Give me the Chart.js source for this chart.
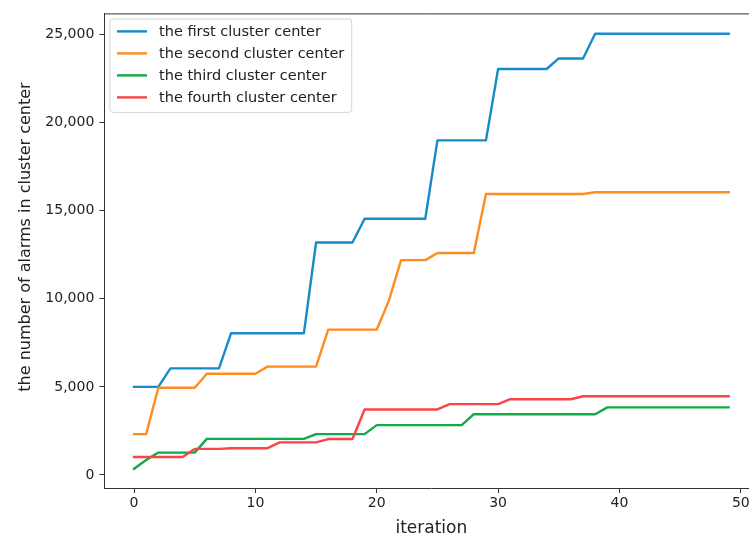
<!DOCTYPE html>
<html>
<head>
<meta charset="utf-8">
<title>Alarms per cluster center</title>
<script src="https://cdn.jsdelivr.net/npm/chart.js@4.4.1/dist/chart.umd.min.js"></script>
<style>
  html, body { margin: 0; padding: 0; background: #fff; overflow: hidden; }
  #view { width: 749px; height: 539px; overflow: hidden; }
  #wrap { position: relative; width: 770px; height: 539px; }
</style>
</head>
<body>
<div id="view"><div id="wrap"><canvas id="chartAlarms"></canvas></div></div>
<script>
// x values: iteration number
const iterations = [0, 1, 2, 3, 4, 5, 6, 7, 8, 9, 10, 11, 12, 13, 14, 15, 16, 17, 18, 19,
                    20, 21, 22, 23, 24, 25, 26, 27, 28, 29, 30, 31, 32, 33, 34, 35, 36, 37, 38, 39,
                    40, 41, 42, 43, 44, 45, 46, 47, 48, 49];

// number of alarms in each cluster center per iteration
const firstCenter = [5000, 5000, 5000, 6050, 6050, 6050, 6050, 6050, 8050, 8050,
                     8050, 8050, 8050, 8050, 8050, 13200, 13200, 13200, 13200, 14550,
                     14550, 14550, 14550, 14550, 14550, 19000, 19000, 19000, 19000, 19000,
                     23050, 23050, 23050, 23050, 23050, 23650, 23650, 23650, 25050, 25050,
                     25050, 25050, 25050, 25050, 25050, 25050, 25050, 25050, 25050, 25050];
const secondCenter = [2320, 2320, 4950, 4950, 4950, 4950, 5750, 5750, 5750, 5750,
                      5750, 6150, 6150, 6150, 6150, 6150, 8250, 8250, 8250, 8250,
                      8250, 9900, 12200, 12200, 12200, 12600, 12600, 12600, 12600, 15950,
                      15950, 15950, 15950, 15950, 15950, 15950, 15950, 15950, 16050, 16050,
                      16050, 16050, 16050, 16050, 16050, 16050, 16050, 16050, 16050, 16050];
const thirdCenter = [350, 850, 1270, 1270, 1270, 1270, 2050, 2050, 2050, 2050,
                     2050, 2050, 2050, 2050, 2050, 2320, 2320, 2320, 2320, 2320,
                     2830, 2830, 2830, 2830, 2830, 2830, 2830, 2830, 3450, 3450,
                     3450, 3450, 3450, 3450, 3450, 3450, 3450, 3450, 3450, 3840,
                     3840, 3840, 3840, 3840, 3840, 3840, 3840, 3840, 3840, 3840];
const fourthCenter = [1020, 1020, 1020, 1020, 1020, 1480, 1480, 1480, 1520, 1520,
                      1520, 1520, 1850, 1850, 1850, 1850, 2040, 2040, 2040, 3720,
                      3720, 3720, 3720, 3720, 3720, 3720, 4020, 4020, 4020, 4020,
                      4020, 4300, 4300, 4300, 4300, 4300, 4300, 4470, 4470, 4470,
                      4470, 4470, 4470, 4470, 4470, 4470, 4470, 4470, 4470, 4470];

const seriesNames = ['the first cluster center', 'the second cluster center',
                     'the third cluster center', 'the fourth cluster center'];
const seriesColors = ['#168bc9', '#ff8c1e', '#10aa48', '#fa4545'];

const xTicks = [0, 10, 20, 30, 40, 50];
const yTicks = [0, 5000, 10000, 15000, 20000, 25000];
const yTitle = 'the number of alarms in cluster center';

const allSeries = [firstCenter, secondCenter, thirdCenter, fourthCenter];

Chart.defaults.font.family = "'DejaVu Sans', sans-serif";
Chart.defaults.color = '#222';

// top frame line, y title and the boxed legend inside the plot
const frameAndLegend = {
    id: 'frameAndLegend',
    afterDatasetsDraw(chart) {
        const ctx = chart.ctx;
        const a = chart.chartArea;
        ctx.save();
        ctx.strokeStyle = '#333';
        ctx.lineWidth = 1;
        ctx.beginPath();
        ctx.moveTo(a.left, a.top + 0.5);
        ctx.lineTo(a.right, a.top + 0.5);
        ctx.stroke();

        // y title sits a little above the middle of the axis
        ctx.save();
        ctx.translate(26, 237);
        ctx.rotate(-Math.PI / 2);
        ctx.font = "16px 'DejaVu Sans'";
        ctx.textAlign = 'center';
        ctx.textBaseline = 'middle';
        ctx.fillStyle = '#222';
        ctx.fillText(yTitle, 0, 0);
        ctx.restore();

        const bx = a.left + 5.7, by = a.top + 5.6, bw = 241.7, bh = 93.4;
        ctx.beginPath();
        ctx.roundRect(bx, by, bw, bh, 3);
        ctx.fillStyle = 'rgba(255,255,255,0.8)';
        ctx.fill();
        ctx.strokeStyle = '#d4d4d4';
        ctx.stroke();

        ctx.font = "14.5px 'DejaVu Sans'";
        ctx.textBaseline = 'middle';
        chart.data.datasets.forEach((ds, i) => {
            const y = by + 12.4 + i * 22;
            ctx.strokeStyle = ds.borderColor;
            ctx.lineWidth = 2.4;
            ctx.beginPath();
            ctx.moveTo(bx + 7, y);
            ctx.lineTo(bx + 37, y);
            ctx.stroke();
            ctx.fillStyle = '#222';
            ctx.fillText(ds.label, bx + 49, y + 1);
        });
        ctx.restore();
    }
};

const axisTicks = { drawOnChartArea: false, tickLength: 5, color: '#333', tickWidth: 1 };

new Chart(document.getElementById('chartAlarms'), {
    type: 'line',
    data: {
        datasets: allSeries.map((values, i) => ({
            label: seriesNames[i],
            data: iterations.map((it, k) => ({ x: it, y: values[k] })),
            borderColor: seriesColors[i],
            backgroundColor: seriesColors[i],
            borderWidth: 2.4,
            borderJoinStyle: 'round',
            borderCapStyle: 'square',
            pointRadius: 0,
            tension: 0,
            order: allSeries.length - i // later series on top
        }))
    },
    options: {
        responsive: true,
        maintainAspectRatio: false,
        animation: false,
        layout: { padding: { top: 12.7, right: 11.6, left: 0, bottom: 0 } },
        scales: {
            x: {
                type: 'linear',
                min: -2.45,
                max: 51.45,
                afterBuildTicks: s => { s.ticks = xTicks.map(v => ({ value: v })); },
                afterFit: s => { s.height = 51; },
                grid: axisTicks,
                border: { color: '#333', width: 1 },
                ticks: { padding: 2, color: '#222', font: { size: 14 } },
                title: {
                    display: true,
                    text: 'iteration',
                    color: '#222',
                    font: { size: 17 },
                    padding: { top: 0, bottom: 0 }
                }
            },
            y: {
                type: 'linear',
                min: -740,
                max: 26207,
                afterBuildTicks: s => { s.ticks = yTicks.map(v => ({ value: v })); },
                afterFit: s => { s.width = 104.3; },
                grid: axisTicks,
                border: { color: '#333', width: 1 },
                ticks: {
                    padding: 5,
                    color: '#222',
                    font: { size: 14 },
                    callback: v => v.toLocaleString('en-US')
                }
            }
        },
        plugins: {
            legend: { display: false },
            tooltip: { enabled: false }
        }
    },
    plugins: [frameAndLegend]
});
</script>
</body>
</html>
